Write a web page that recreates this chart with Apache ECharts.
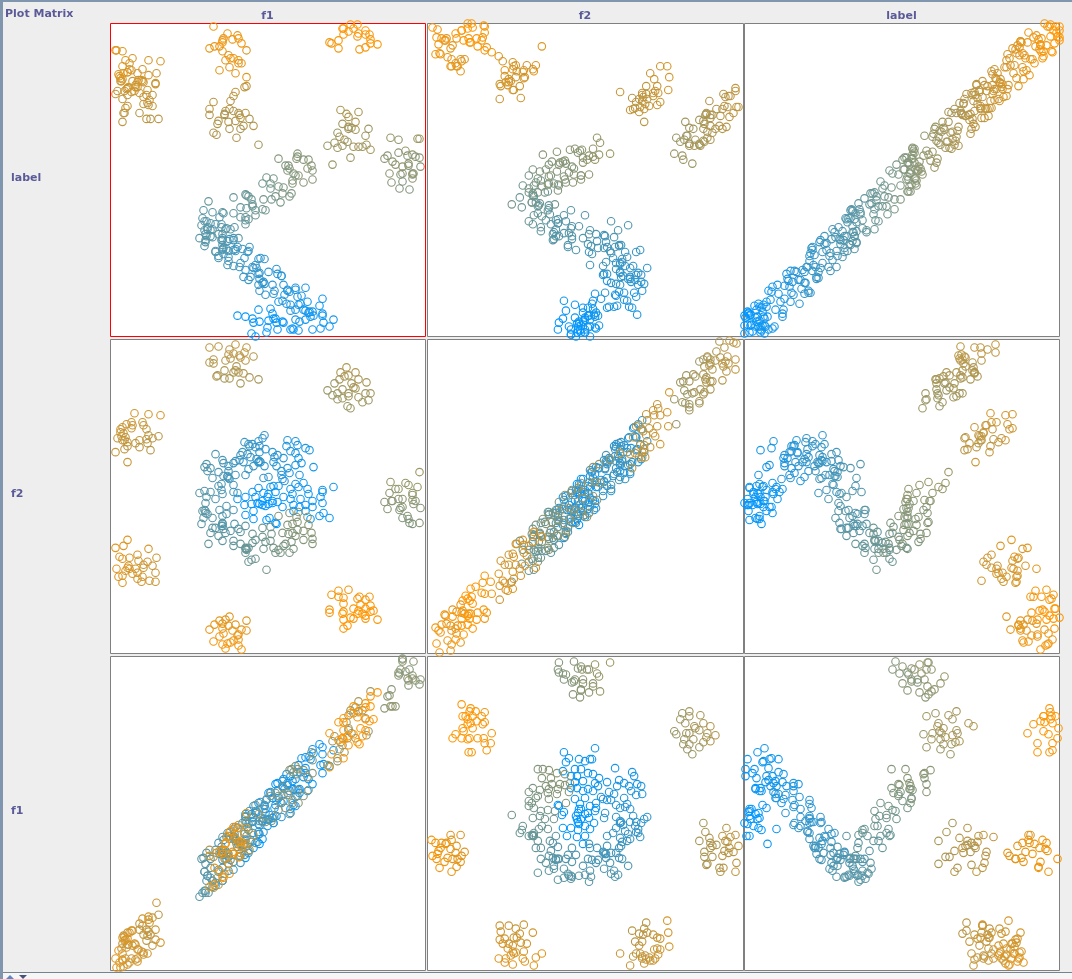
<!DOCTYPE html>
<html>
<head>
<meta charset="utf-8">
<style>html,body{margin:0;padding:0;background:#eeeeee;}#chart{width:1072px;height:979px;}</style>
<script src="https://cdn.jsdelivr.net/npm/echarts@6/dist/echarts.min.js"></script>
</head>
<body>
<div id="chart"></div>
<script>
// Every point is [f1, f2, label] (no tick labels: unit is 0..315 along each attribute).
const clusterUpperLeft = [[24,241,262],[38,240,258],[50,239,263],[16,230,250],[21,232,256],[32,232,248],[12,227,244],[21,226,252],[33,229,246],[36,225,240],[10,222,250],[13,221,238],[7,216,245],[11,218,242],[15,217,236],[12,214,232],[17,212,240],[38,219,235],[42,216,230],[48,218,228],[29,214,241],[36,215,233],[25,211,237],[29,207,229],[37,211,227],[14,205,236],[5,202,243],[17,208,231],[40,204,226],[17,192,247],[10,225,255],[22,229,243],[14,214,248]];
const clusterLowerLeft = [[17,114,276],[5,106,279],[13,108,270],[38,105,262],[9,97,274],[19,96,266],[27,99,258],[12,95,272],[28,93,256],[46,96,250],[37,92,254],[42,88,248],[6,85,278],[17,86,268],[19,85,262],[25,85,260],[33,86,252],[18,88,265],[22,80,264],[27,81,255],[45,81,247],[8,77,275],[12,78,271],[32,77,257],[27,75,263],[39,73,253],[45,72,249],[12,71,273],[31,72,259],[33,89,251],[15,83,269]];
const clusterTopMiddle = [[99,307,236],[108,308,232],[125,310,241],[136,307,238],[119,305,230],[118,300,226],[123,301,233],[129,299,228],[134,302,235],[143,298,224],[99,292,220],[103,295,229],[103,291,218],[115,294,225],[120,296,222],[135,294,231],[126,288,216],[114,284,214],[125,284,219],[128,282,212],[133,281,221],[107,279,210],[106,278,217],[114,276,207],[119,276,213],[139,277,211],[148,275,204],[130,271,208],[123,282,215],[130,297,227]];
const clusterBottomMiddle = [[119,37,276],[136,33,272],[109,33,280],[115,34,275],[104,29,285],[125,29,278],[99,24,288],[112,25,283],[131,24,281],[136,23,277],[113,20,290],[109,17,294],[122,23,286],[128,19,284],[118,28,279],[128,14,292],[103,12,296],[112,9,300],[117,10,297],[123,13,291],[128,8,299],[115,5,306],[131,4,302],[120,11,295],[112,30,282],[127,18,289]];
const clusterTopRight = [[236,287,219],[230,282,214],[245,282,217],[234,278,208],[238,279,212],[229,275,206],[248,275,210],[256,272,205],[224,271,192],[241,271,203],[243,267,204],[217,264,190],[232,265,199],[227,261,196],[222,259,189],[238,261,201],[232,256,194],[227,255,192],[248,257,200],[255,261,198],[260,261,202],[258,254,193],[252,252,195],[237,248,188],[240,246,191],[245,266,207],[238,258,197]];
const clusterRight = [[309,182,194],[280,172,186],[295,171,188],[298,169,184],[307,167,190],[285,165,178],[288,165,182],[279,161,176],[302,161,180],[274,152,172],[281,153,168],[282,153,174],[288,155,170],[292,155,177],[302,154,175],[305,153,171],[290,146,165],[277,145,169],[292,147,173],[310,146,167],[289,144,163],[297,138,166],[292,136,160],[298,135,164],[299,131,159],[302,130,162],[309,131,168],[303,150,171],[302,159,179]];
const clusterBottomRight = [[221,59,296],[228,63,300],[238,64,298],[228,57,303],[233,56,306],[249,57,301],[247,55,299],[259,57,297],[255,54,304],[233,50,308],[219,44,305],[219,41,302],[260,48,311],[250,49,309],[243,45,312],[233,42,310],[248,43,314],[255,45,315],[260,42,313],[263,43,307],[232,40,314],[252,40,315],[233,34,315],[240,36,313],[243,35,311],[255,35,315],[267,34,309],[237,28,315],[233,25,312],[247,40,315],[255,38,314]];
const ringCentre = [[127,155,14],[135,157,10],[142,162,16],[148,166,12],[145,157,6],[153,161,8],[160,167,18],[163,168,20],[168,168,22],[158,160,5],[165,162,14],[152,153,3],[162,153,7],[173,157,18],[180,165,24],[185,170,28],[193,171,26],[197,165,23],[182,160,15],[188,167,21],[198,160,19],[212,164,24],[212,162,22],[223,167,27],[202,153,16],[180,155,12],[190,155,17],[210,157,20],[167,152,4],[157,157,2],[134,149,3],[141,150,1],[149,150,0],[155,148,2],[162,151,0],[172,147,5],[183,149,9],[195,149,13],[202,147,16],[212,151,19],[189,147,11],[135,139,4],[143,143,1],[143,135,6],[159,136,0],[156,134,3],[166,130,2],[165,131,0],[183,143,8],[195,143,12],[209,138,17],[213,141,15],[219,136,20],[200,135,11],[152,149,1],[158,150,0],[147,151,4]];
const ringUpperRight = [[177,214,44],[185,213,40],[176,208,46],[187,209,38],[195,206,34],[199,204,31],[180,203,42],[185,201,39],[162,202,54],[167,199,50],[164,197,55],[173,196,48],[163,192,57],[166,188,52],[188,196,36],[191,191,33],[185,189,38],[177,186,45],[171,183,49],[203,187,28],[189,179,30],[179,181,40],[171,179,47],[174,173,43],[172,175,46],[158,177,56],[153,176,60]];
const ringUpperLeft = [[154,219,62],[152,216,66],[148,213,60],[134,212,72],[138,210,70],[142,210,68],[139,208,75],[149,208,64],[155,205,58],[132,202,78],[130,199,76],[137,200,72],[140,197,69],[146,195,65],[148,192,66],[150,192,63],[129,194,74],[125,193,80],[133,192,71],[143,188,68],[138,185,74],[154,188,60],[149,202,61],[145,207,67],[148,192,64],[149,193,65]];
const ringLeft = [[105,200,96],[112,194,90],[113,191,88],[96,190,100],[94,187,103],[100,186,98],[97,183,101],[108,182,92],[118,188,84],[123,191,82],[118,183,86],[117,177,88],[102,176,98],[113,178,91],[119,175,85],[123,169,80],[111,170,93],[108,168,95],[111,164,94],[112,160,92],[125,179,78],[89,161,110],[94,163,106],[100,162,102],[96,157,108],[105,155,100],[123,162,82],[127,161,76],[135,179,68],[118,176,86],[117,178,87]];
const ringLowerLeft = [[95,151,108],[109,144,104],[116,148,100],[123,144,96],[92,143,112],[95,141,110],[97,140,108],[93,136,112],[102,136,106],[112,138,103],[116,140,99],[91,130,114],[102,126,112],[100,121,116],[105,126,109],[112,130,106],[113,125,108],[120,123,112],[124,130,102],[128,125,110],[135,128,116],[130,122,118],[115,121,115],[108,118,118],[112,113,120],[98,110,122],[142,120,132],[152,126,138],[160,127,145],[161,120,143],[152,117,138],[145,114,134],[142,111,130],[160,113,142],[155,112,140],[123,113,122],[123,108,125],[130,110,126],[135,105,129],[138,106,131],[153,105,140],[135,101,130],[145,95,136],[141,94,134],[138,92,132],[156,84,144],[112,128,107],[111,128,105],[112,131,108],[136,105,128],[136,104,130],[135,106,127],[95,143,110],[94,144,111]];
const ringLowerRight = [[168,138,165],[179,141,170],[188,142,172],[186,137,170],[197,137,174],[187,132,168],[182,130,166],[177,129,164],[198,129,171],[193,123,168],[201,121,170],[187,124,166],[182,121,163],[172,121,160],[178,120,162],[185,118,164],[193,114,165],[202,115,167],[202,110,163],[181,112,158],[175,110,156],[173,108,154],[183,105,156],[179,101,152],[168,104,150],[163,106,147],[165,101,148],[170,101,150]];

// Plot jitter estimated from the width of the bands in the picture.
const diagonalJitter = [-18,9,-4,21,-12,3,16,-22,7,-9,13,-1,19,-15,5,-7,22,-20,11,-3,15,-11,1,-17,8,18,-6,-14,12,-2,20];
const labelJitter = [7,-13,2,15,-6,-16,10,-2,13,-9,4,-14,16,-4,8,-11,1,12,-7,-15,5,14,-1,-10,9,-5,16,-12,3];

const attributes = {f1: 0, f2: 1, label: 2};
const columnAttributes = ['f1', 'f2', 'label'];
const rowAttributes = ['label', 'f2', 'f1'];
const sideLabels = ['label', 'f2', 'f1'];
const AXIS_MAX = 315;

const points = [].concat(ringCentre, ringUpperRight, ringUpperLeft, ringLeft, ringLowerLeft, ringLowerRight, clusterRight, clusterTopRight, clusterTopMiddle, clusterUpperLeft, clusterLowerLeft, clusterBottomMiddle, clusterBottomRight);

function colourOf(label) {
  const r = Math.round(255 * Math.min(1, label / AXIS_MAX));
  return 'rgb(' + r + ',150,' + (255 - r) + ')';
}

const colLeft = [110, 427, 744], colWidth = [315, 316, 315];
const rowTop = [23, 339, 656], rowHeight = [313, 314, 314];
const inkText = '#5a5a98', font = 'DejaVu Sans';

// One reading of an attribute for the panel number `idx`: label gets the plot's jitter.
function reading(p, i, attrIndex, idx, other) {
  if (attrIndex === other) return p[attrIndex] + diagonalJitter[(i + idx) % diagonalJitter.length];
  if (attrIndex === 2) return p[2] + labelJitter[(i + idx * 3) % labelJitter.length];
  return p[attrIndex];
}

const grid = [], xAxis = [], yAxis = [], series = [];
rowAttributes.forEach((rowAttr, r) => {
  columnAttributes.forEach((colAttr, c) => {
    const idx = grid.length;
    grid.push({left: colLeft[c] + 0.5, top: rowTop[r] + 0.5, width: colWidth[c], height: rowHeight[r], show: true,
      backgroundColor: '#ffffff', borderWidth: 1, borderColor: idx === 0 ? '#ff0000' : '#808080'});
    xAxis.push({type: 'value', gridIndex: idx, min: 0, max: AXIS_MAX, show: false});
    yAxis.push({type: 'value', gridIndex: idx, min: 0, max: AXIS_MAX, show: false});
    const xi = attributes[colAttr], yi = attributes[rowAttr];
    series.push({
      type: 'scatter', xAxisIndex: idx, yAxisIndex: idx, silent: true, clip: true, animation: false,
      symbol: 'circle', symbolSize: 7.5,
      data: points.map((p, i) => ({
        value: [xi === yi ? p[xi] : reading(p, i, xi, idx, -1), reading(p, i, yi, idx, xi)],
        itemStyle: {color: 'rgba(255,255,255,0)', borderColor: colourOf(p[2]), borderWidth: 1.1, opacity: 1}
      }))
    });
  });
});

const textStyle = (text, fontSize) => ({text, fill: inkText, font: 'bold ' + fontSize + 'px "' + font + '"', textVerticalAlign: 'middle'});
const graphic = [
  {type: 'rect', shape: {x: 0, y: 0, width: 1072, height: 2}, style: {fill: '#7f96ae'}, silent: true},
  {type: 'rect', shape: {x: 0, y: 0, width: 3, height: 979}, style: {fill: '#7f96ae'}, silent: true},
  {type: 'rect', shape: {x: 3, y: 972, width: 1069, height: 1}, style: {fill: '#75848f'}, silent: true},
  {type: 'rect', shape: {x: 3, y: 973, width: 1069, height: 6}, style: {fill: '#f6f6f6'}, silent: true},
  {type: 'polygon', shape: {points: [[6, 979], [10, 975], [14, 979]]}, style: {fill: '#5f85c0'}, silent: true},
  {type: 'polygon', shape: {points: [[19, 975], [27, 975], [23, 979]]}, style: {fill: '#44557a'}, silent: true},
  {type: 'text', left: 5, top: 9, style: textStyle('Plot Matrix', 11), silent: true}
];
columnAttributes.forEach((name, c) => {
  graphic.push({type: 'text', x: colLeft[c] + colWidth[c] / 2, y: 16, style: Object.assign(textStyle(name, 11), {textAlign: 'center'}), silent: true});
});
sideLabels.forEach((name, r) => {
  graphic.push({type: 'text', x: 11, y: rowTop[r] + 155, style: textStyle(name, 11), silent: true});
});

const chart = echarts.init(document.getElementById('chart'), null, {renderer: 'canvas', width: 1072, height: 979});
chart.setOption({backgroundColor: '#eeeeee', animation: false, grid, xAxis, yAxis, series, graphic, tooltip: {show: false}});
</script>
</body>
</html>
